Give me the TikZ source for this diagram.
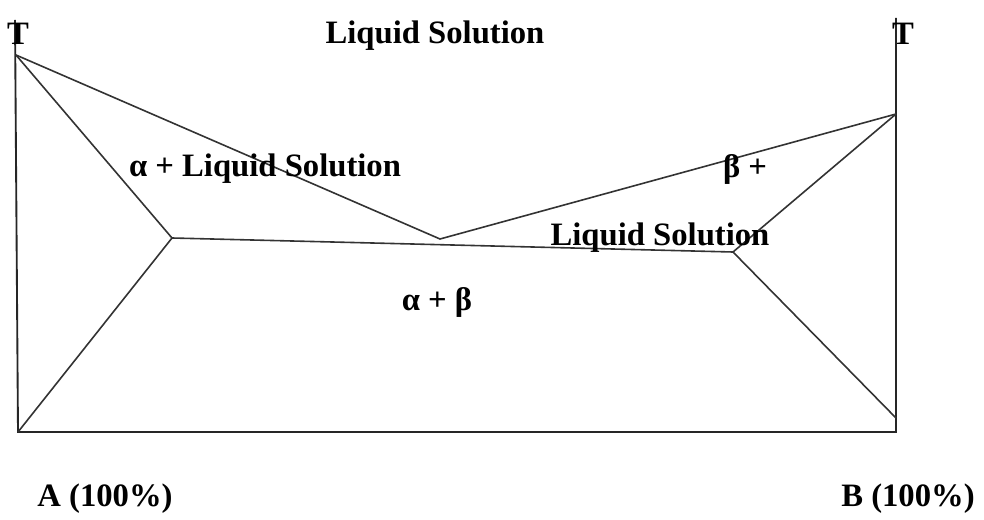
\documentclass[tikz,border=0pt]{standalone}
\usepackage{fontspec}
\setmainfont{Liberation Serif}
\usetikzlibrary{positioning}

\begin{document}
\begin{tikzpicture}[
  x=0.75pt, y=-0.75pt,
  font=\fontsize{24.5}{28}\selectfont\bfseries,
  axis/.style={draw=black!85, line width=1.4pt},
  phase/.style={draw=black!80, line width=1.2pt},
  lbl/.style={inner sep=0pt, anchor=center}
]
\useasboundingbox (0,0) rectangle (984,520);
% corners and junctions
\coordinate (topA) at (15,20);
\coordinate (botA) at (18,432);
\coordinate (topB) at (896,18);
\coordinate (botB) at (896,432);
\coordinate (meltA) at (16,55);
\coordinate (meltB) at (896,114);
\coordinate (eut) at (440,239);
\coordinate (solA) at (172,238);
\coordinate (solB) at (733,252);
\coordinate (endB) at (896,418);
% frame
\draw[axis] (topA) -- (botA) -- (botB) -- (topB);
% liquidus
\draw[phase] (meltA) -- (eut) -- (meltB);
% solidus and solvus
\draw[phase] (meltA) -- (solA) -- (botA);
\draw[phase] (meltB) -- (solB) -- (endB);
\draw[phase] (solA) -- (solB);
% labels
\node[lbl] (tA) at (18,34) {T};
\node[lbl] (tB) at (903,34) {T};
\node[lbl] (liq) at (435,36) {Liquid Solution};
\node[lbl] (alphaliq) at (265,169) {α + Liquid Solution};
\node[lbl] (betaplus) at (745,169) {β +};
\node[lbl] (betaliq) at (660,238) {Liquid Solution};
\node[lbl] (ab) at (437,302) {α + β};
\node[lbl] (pureA) at (105,499) {A (100\%)};
\node[lbl] (pureB) at (908,499) {B (100\%)};
\end{tikzpicture}
\end{document}
